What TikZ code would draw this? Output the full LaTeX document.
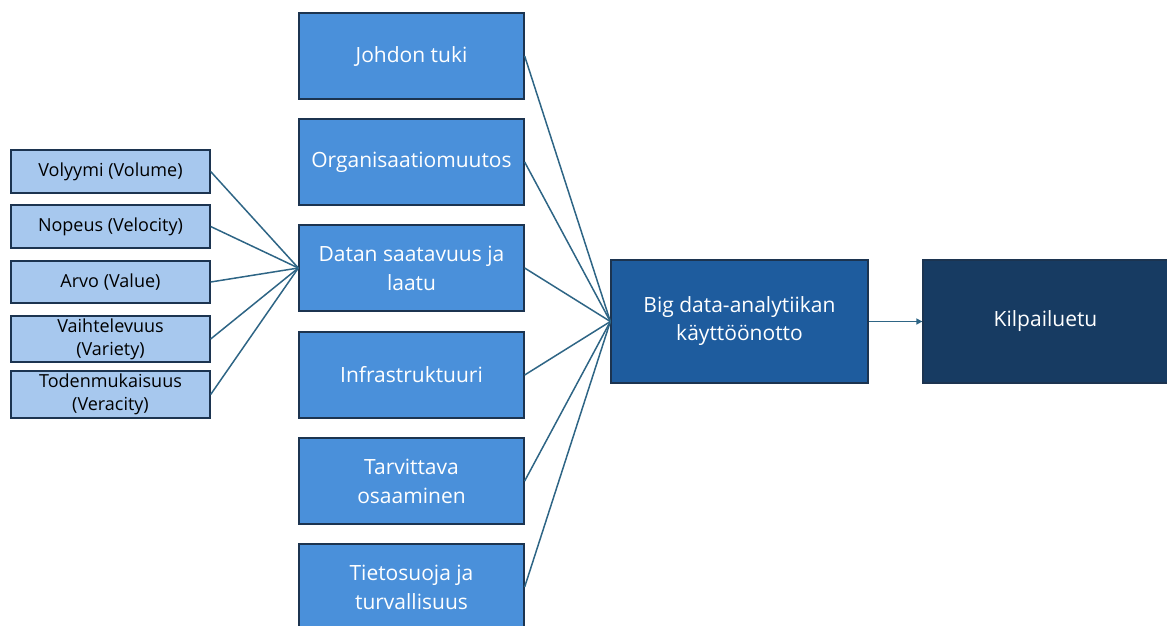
\documentclass[tikz,border=0pt]{standalone}
\usepackage{fontspec}
\setmainfont{Open Sans}
\usetikzlibrary{arrows.meta}
\definecolor{midblue}{HTML}{4A90DA}
\definecolor{lightblue}{HTML}{A7C8EE}
\definecolor{bigblue}{HTML}{1E5C9E}
\definecolor{darknavy}{HTML}{173B62}
\definecolor{bordercol}{HTML}{1C3450}
\definecolor{linecol}{HTML}{2E6585}
\tikzset{
  midbox/.style={draw=bordercol, line width=1.3pt, fill=midblue, text=white, minimum width=225pt, minimum height=86pt, align=center, font=\fontsize{21}{29}\selectfont, inner sep=2pt},
  leftbox/.style={draw=bordercol, line width=1.3pt, fill=lightblue, text=black, minimum width=199pt, align=center, font=\fontsize{18}{23}\selectfont, inner sep=0pt},
  bigbox/.style={draw=bordercol, line width=1.3pt, fill=bigblue, text=white, minimum width=257pt, minimum height=123pt, align=center, font=\fontsize{21}{28}\selectfont},
  kbox/.style={draw=bordercol, line width=1.3pt, fill=darknavy, text=white, minimum width=245pt, minimum height=123pt, align=center, font=\fontsize{21}{28}\selectfont},
  conn/.style={draw=linecol, line width=1.5pt}
}
\begin{document}
\begin{tikzpicture}[x=1pt,y=-1pt]
\useasboundingbox (0,0) rectangle (1167,625);
\begin{scope}
\clip (0,0) rectangle (1167,625);
% middle boxes
\node[midbox] (m1) at (411.5,56) {Johdon tuki};
\node[midbox] (m2) at (411.5,162) {Organisaatiomuutos};
\node[midbox] (m3) at (411.5,268) {Datan saatavuus ja\\laatu};
\node[midbox] (m4) at (411.5,375) {Infrastruktuuri};
\node[midbox] (m5) at (411.5,481) {Tarvittava\\osaaminen};
\node[midbox] (m6) at (411.5,587) {Tietosuoja ja\\turvallisuus};
% left boxes
\node[leftbox, minimum height=43pt] (l1) at (110.5,171.5) {Volyymi (Volume)};
\node[leftbox, minimum height=43pt] (l2) at (110.5,226.5) {Nopeus (Velocity)};
\node[leftbox, minimum height=42pt] (l3) at (110.5,282) {Arvo (Value)};
\node[leftbox, minimum height=46pt] (l4) at (110.5,339) {Vaihtelevuus\\(Variety)};
\node[leftbox, minimum height=47pt] (l5) at (110.5,394.5) {Todenmukaisuus\\(Veracity)};
% right boxes
\node[bigbox] (b) at (739.5,321.5) {Big data-analytiikan\\käyttöönotto};
\node[kbox] (k) at (1045.5,321.5) {Kilpailuetu};
\end{scope}
% connectors left -> Datan
\foreach \n in {l1,l2,l3,l4,l5}
  \draw[conn] (\n.east) -- (m3.west);
% connectors middle -> big data
\foreach \n in {m1,m2,m3,m4,m5,m6}
  \draw[conn] (\n.east) -- (b.west);
\draw[conn, -{Triangle[length=6pt,width=6pt]}] (b.east) -- (k.west);
\end{tikzpicture}
\end{document}
